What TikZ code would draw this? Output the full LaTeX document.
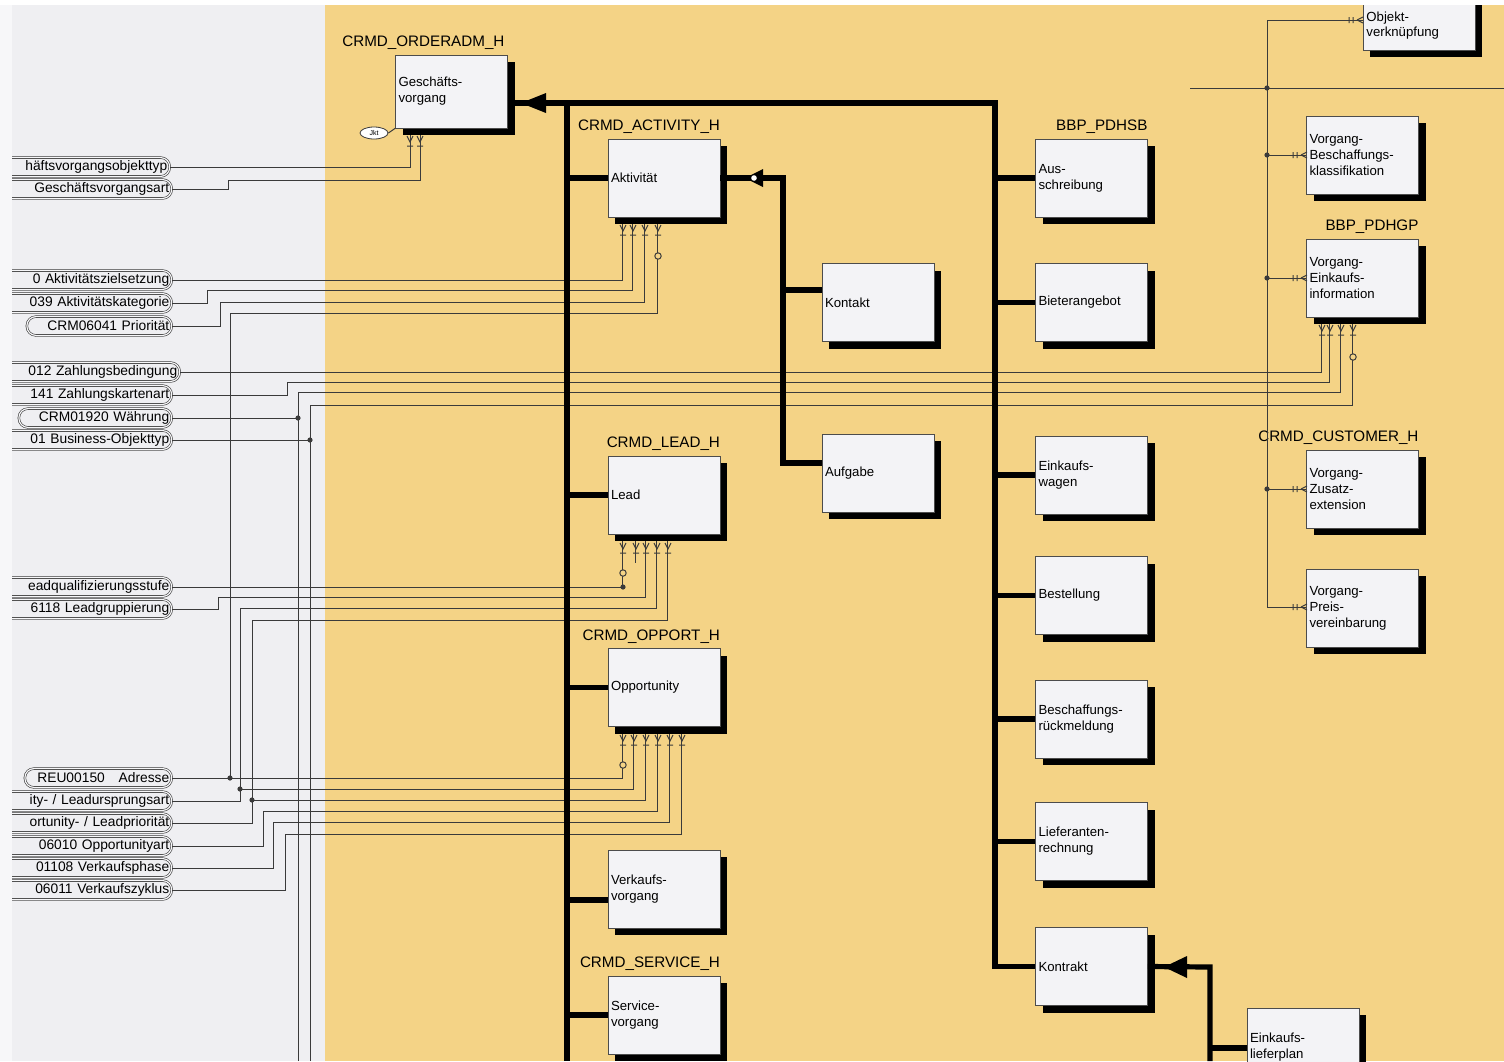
\documentclass[tikz,border=0pt]{standalone}
\usepackage{fontspec}
\setmainfont{Liberation Sans}
\usetikzlibrary{shadows,calc,shapes.geometric}
\definecolor{yel}{HTML}{F4D386}
\definecolor{lgrey}{HTML}{EFEFF2}
\definecolor{lstrip}{HTML}{F7F7F9}
\definecolor{boxf}{HTML}{F3F3F6}
\definecolor{ln}{HTML}{3A3A3A}
\newcommand\crowft[2]{\draw[conn] (#1-3,#2) -- (#1,#2+6) -- (#1+3,#2) (#1-3,#2+10) -- (#1+3,#2+10);}
\newcommand\entmk[2]{\draw[conn] (#1-14,#2-3) -- (#1-14,#2+3) (#1-10,#2-3) -- (#1-10,#2+3) (#1-6,#2) -- (#1,#2-3) (#1-6,#2) -- (#1,#2+3);}
\begin{document}
\begin{tikzpicture}[x=0.5pt,y=-0.5pt,
 ent/.style={draw=gray!60!black, line width=0.35pt, fill=boxf, minimum width=56pt, minimum height=39pt, text width=53pt, align=left, inner sep=1.5pt, font=\fontsize{6.6}{8}\selectfont, drop shadow={shadow xshift=3.6pt, shadow yshift=-3.6pt, fill=black, opacity=1}},
 hdr/.style={anchor=base east, inner sep=0pt, font=\fontsize{7.6}{8}\selectfont},
 trunk/.style={line width=2.6pt, black},
 conn/.style={line width=0.5pt, ln},
 lab/.style={draw=ln, line width=0.3pt, double=lstrip, double distance=0.6pt, rounded corners=4.5pt, minimum height=9.4pt, inner sep=1.2pt, anchor=east, align=right, font=\fontsize{6.9}{7}\selectfont},
 dot/.style={circle, fill=ln, inner sep=0pt, minimum size=2.6pt}
]
\useasboundingbox (0,0) rectangle (1504,1061);
\fill[lgrey] (0,0) rectangle (1504,1061);
\fill[lstrip] (0,0) rectangle (12,1061);
\fill[yel] (325,5) rectangle (1504,1061);

% ---------- labels (left, clipped) ----------
\begin{scope}
\clip (12,0) rectangle (400,1061);
\node[lab, text width=82pt] (l1) at (170,167) {häftsvorgangsobjekttyp};
\node[lab, text width=83pt] (l2) at (172,189) {Geschäftsvorgangsart};
\node[lab, text width=83pt] (l3) at (172,280) {0 Aktivitätszielsetzung};
\node[lab, text width=83pt] (l4) at (172,303) {039 Aktivitätskategorie};
\node[lab, text width=70pt] (l5) at (172,326) {CRM06041 Priorität};
\node[lab, text width=87pt] (l6) at (180,372) {012 Zahlungsbedingung};
\node[lab, text width=83pt] (l7) at (172,395) {141 Zahlungskartenart};
\node[lab, text width=74pt] (l8) at (172,418) {CRM01920 Währung};
\node[lab, text width=83pt] (l9) at (172,440) {01 Business-Objekttyp};
\node[lab, text width=83pt] (l10) at (172,587) {eadqualifizierungsstufe};
\node[lab, text width=83pt] (l11) at (172,609) {6118 Leadgruppierung};
\node[lab, text width=71pt] (l12) at (172,778) {REU00150~~~Adresse};
\node[lab, text width=83pt] (l13) at (172,801) {ity- / Leadursprungsart};
\node[lab, text width=83pt] (l14) at (172,823) {ortunity- / Leadpriorität};
\node[lab, text width=83pt] (l15) at (172,846) {06010 Opportunityart};
\node[lab, text width=83pt] (l16) at (172,868) {01108 Verkaufsphase};
\node[lab, text width=83pt] (l17) at (172,890) {06011 Verkaufszyklus};
\end{scope}

% ---------- entities ----------
\node[ent, minimum height=36.5pt] (gv) at (451.5,91.5) {Geschäfts-\\vorgang};
\node[hdr] at ([xshift=-1.5pt,yshift=4pt]gv.north east) {CRMD\_ORDERADM\_H};
\node[ent] (akt) at (664,178) {Aktivität};
\node[hdr] at ([yshift=4pt]akt.north east) {CRMD\_ACTIVITY\_H};
\node[ent] (kont) at (878,302.5) {Kontakt};
\node[ent] (auf) at (878,473) {Aufgabe};
\node[ent] (lead) at (664,495) {Lead};
\node[hdr] at ([yshift=4pt]lead.north east) {CRMD\_LEAD\_H};
\node[ent] (opp) at (664,687.5) {Opportunity};
\node[hdr] at ([yshift=4pt]opp.north east) {CRMD\_OPPORT\_H};
\node[ent] (verk) at (664,889) {Verkaufs-\\vorgang};
\node[ent] (serv) at (664,1015) {Service-\\vorgang};
\node[hdr] at ([yshift=4pt]serv.north east) {CRMD\_SERVICE\_H};
\node[ent] (aus) at (1091.5,178) {Aus-\\schreibung};
\node[hdr] at ([yshift=4pt]aus.north east) {BBP\_PDHSB};
\node[ent] (biet) at (1091.5,302.5) {Bieterangebot};
\node[ent] (eink) at (1091.5,475) {Einkaufs-\\wagen};
\node[ent] (best) at (1091.5,595.5) {Bestellung};
\node[ent] (besch) at (1091.5,719) {Beschaffungs-\\rückmeldung};
\node[ent] (lief) at (1091.5,841.5) {Lieferanten-\\rechnung};
\node[ent] (kon) at (1091.5,966.5) {Kontrakt};
\node[ent] (eklp) at (1303,1047) {Einkaufs-\\lieferplan};
\node[ent] (objv) at (1419,11) {};
\node[anchor=west, inner sep=0pt, align=left, font=\fontsize{6.6}{7.5}\selectfont] (objvt) at (1366,26) {Objekt-\\verknüpfung};
\node[ent] (vbk) at (1362.5,155) {Vorgang-\\Beschaffungs-\\klassifikation};
\node[ent] (vei) at (1362.5,278) {Vorgang-\\Einkaufs-\\information};
\node[hdr] at ([yshift=4pt]vei.north east) {BBP\_PDHGP};
\node[ent] (vze) at (1362.5,489) {Vorgang-\\Zusatz-\\extension};
\node[hdr] at ([yshift=4pt]vze.north east) {CRMD\_CUSTOMER\_H};
\node[ent] (vpv) at (1362.5,608) {Vorgang-\\Preis-\\vereinbarung};

\node[draw=ln, ellipse, line width=0.4pt, fill=white, minimum width=14pt, minimum height=6pt, inner sep=0pt, font=\fontsize{3.5}{4}\selectfont] (ell) at (374,133) {Jkt};
\draw[conn] (ell.east) -- (gv.south west);

% ---------- thin connectors ----------
% Geschaeftsvorgang
\draw[conn] (l1.east) -| ($(gv.south west)+(15,7)$);
\draw[conn] (l2.east) -- (228,189) -- (228,180) -| ($(gv.south west)+(25,7)$);
% Aktivitaet
\draw[conn] (l3.east) -| ($(akt.south west)+(15,7)$);
\draw[conn] (l4.east) -- (207,303) -- (207,290) -| ($(akt.south west)+(25,7)$);
\draw[conn] (l5.east) -- (220,326) -- (220,302) -| ($(akt.south west)+(37,7)$);
\draw[conn] (230,778) -- (230,313) -| ($(akt.south west)+(50,7)$);
% Einkaufsinformation
\draw[conn] (l6.east) -| ($(vei.south west)+(15,7)$);
\draw[conn] (l7.east) -- (287,395) -- (287,382) -| ($(vei.south west)+(23,7)$);
\draw[conn] (l8.east) -- (298,418);
\draw[conn] (298,1061) -- (298,392) -| ($(vei.south west)+(34,7)$);
\draw[conn] (l9.east) -- (310,440);
\draw[conn] (310,1061) -- (310,405) -| ($(vei.south west)+(46,7)$);
% Lead
\draw[conn] (l10.east) -| ($(lead.south west)+(15,7)$);
\draw[conn] (l11.east) -- (218,609) -- (218,597) -| ($(lead.south west)+(38,7)$);
\draw[conn] (l13.east) -- (240,801) -- (240,608) -| ($(lead.south west)+(49,7)$);
\draw[conn] (l14.east) -- (252,823) -- (252,620) -| ($(lead.south west)+(60,7)$);
\draw[conn] ($(lead.south west)+(28,7)$) -- ++(0,22);
% Opportunity
\draw[conn] (l12.east) -| ($(opp.south west)+(15,7)$);
\draw[conn] (240,789) -| ($(opp.south west)+(26,7)$);
\draw[conn] (252,800) -| ($(opp.south west)+(38,7)$);
\draw[conn] (l15.east) -- (263,846) -- (263,811) -| ($(opp.south west)+(50,7)$);
\draw[conn] (l16.east) -- (273,868) -- (273,822) -| ($(opp.south west)+(62,7)$);
\draw[conn] (l17.east) -- (285,890) -- (285,834) -| ($(opp.south west)+(74,7)$);

% marks under boxes
\foreach \x in {410,420} {\crowft{\x}{136}}
\foreach \x in {623,633,645,658} {\crowft{\x}{225}}
\foreach \x in {623,636,646,657,668} {\crowft{\x}{543}}
\foreach \x in {623,634,646,658,670,682} {\crowft{\x}{735}}
\foreach \x in {1322,1330,1341,1353} {\crowft{\x}{325}}
\draw[conn, fill=yel] (658,256) circle (1.6pt);
\draw[conn, fill=yel] (623,573) circle (1.6pt);
\draw[conn, fill=yel] (623,765) circle (1.6pt);
\draw[conn, fill=yel] (1353,357) circle (1.6pt);
\foreach \p in {(298,418),(310,440),(230,778),(240,789),(252,800),(623,587)} {\node[dot] at \p {};}

% right thin tree
\draw[conn] (1190,88) -- (1504,88);
\draw[conn] (objv.west |- 0,20) -- (1267,20) -- (1267,607) -- (vpv.west |- 0,607);
\draw[conn] (1267,155) -- (vbk.west |- 0,155);
\draw[conn] (1267,278) -- (vei.west |- 0,278);
\draw[conn] (1267,489) -- (vze.west |- 0,489);
\foreach \p in {(1267,88),(1267,155),(1267,278),(1267,489)} {\node[dot] at \p {};}
\entmk{1363}{20}
\entmk{1307}{155}
\entmk{1307}{278}
\entmk{1307}{489}
\entmk{1307}{607}

% ---------- thick connectors ----------
\coordinate (j0) at (567,103);
\coordinate (j1) at (995,103);
\draw[trunk] (gv.east |- j0) -- (j1) -- (j1 |- kon.west) -- (kon.west);
\draw[trunk] (j0) -- (567,1061);
\draw[trunk] (j0 |- akt.west) -- (akt.west);
\draw[trunk] (j0 |- lead.west) -- (lead.west);
\draw[trunk] (j0 |- opp.west) -- (opp.west);
\draw[trunk] (567,900) -- (verk.west |- 0,900);
\draw[trunk] (j0 |- serv.west) -- (serv.west);
\draw[trunk] (j1 |- aus.west) -- (aus.west);
\draw[trunk] (j1 |- biet.west) -- (biet.west);
\draw[trunk] (j1 |- eink.west) -- (eink.west);
\draw[trunk] (j1 |- best.west) -- (best.west);
\draw[trunk] (j1 |- besch.west) -- (besch.west);
\draw[trunk] (j1 |- lief.west) -- (lief.west);
\fill (521,103) -- (546,93) -- (546,113) -- cycle;
% Aktivitaet subtree
\draw[trunk] (akt.east) -- (783,178) -- (783,463) -- (auf.west |- 0,463);
\draw[trunk] (783,290) -- (kont.west |- 0,290);
\fill (745,178) -- (763,169) -- (763,187) -- cycle;
\fill[white] (754,178) circle (1.4pt);
% Kontrakt subtree
\draw[trunk] (kon.east) -- (1210,967) -- (1210,1061);
\draw[trunk] (1210,1048) -- (eklp.west |- 0,1048);
\fill (1164,967) -- (1187,956) -- (1187,978) -- cycle;

\fill[white] (0,0) rectangle (1504,5);
\end{tikzpicture}
\end{document}
